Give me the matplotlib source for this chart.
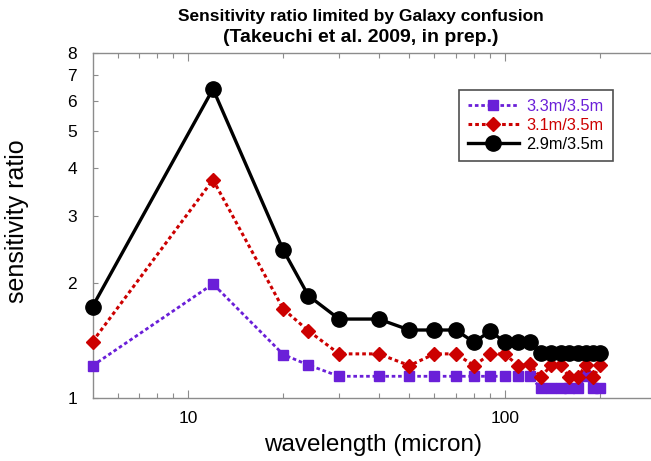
import matplotlib
matplotlib.use("Agg")
import matplotlib.pyplot as plt
from matplotlib.ticker import FixedLocator, NullFormatter, FixedFormatter

# Wavelengths (micron) and sensitivity ratios for three mirror sizes
wavelength = [5, 12, 20, 24, 30, 40, 50, 60, 70, 80, 90, 100, 110, 120,
              130, 140, 150, 160, 170, 180, 190, 200]

ratio_33 = [1.215, 1.99, 1.30, 1.22, 1.14, 1.14, 1.14, 1.14, 1.14, 1.14, 1.14,
            1.14, 1.14, 1.14, 1.06, 1.06, 1.06, 1.06, 1.06, 1.14, 1.06, 1.06]
ratio_31 = [1.405, 3.73, 1.71, 1.50, 1.305, 1.305, 1.216, 1.305, 1.305, 1.216,
            1.305, 1.305, 1.216, 1.225, 1.133, 1.22, 1.22, 1.133, 1.133, 1.22,
            1.133, 1.22]
ratio_29 = [1.735, 6.45, 2.44, 1.854, 1.61, 1.61, 1.507, 1.507, 1.507, 1.40,
            1.498, 1.40, 1.40, 1.40, 1.31, 1.31, 1.31, 1.31, 1.31, 1.31, 1.31,
            1.31]

labels = ["3.3m/3.5m", "3.1m/3.5m", "2.9m/3.5m"]
colors = ["#6a1fd8", "#cc0000", "#000000"]

x_major = [10, 100]
x_minor = [6, 7, 8, 9, 20, 30, 40, 50, 60, 70, 80, 90, 200, 300]
y_ticks = [1, 2, 3, 4, 5, 6, 7, 8]

plt.rcParams["font.family"] = ["Liberation Sans", "DejaVu Sans"]

fig = plt.figure(figsize=(6.51, 4.61), dpi=100)
ax = fig.add_axes([92.5 / 651, (461 - 398) / 461, (656 - 92.5) / 651, (398 - 53.3) / 461])

ax.set_xscale("log")
ax.set_yscale("log")
ax.set_xlim(5, 300)
ax.set_ylim(1, 8)

ax.plot(wavelength, ratio_33, color=colors[0], lw=2.0, dashes=(1.3, 1.0),
        marker="s", ms=7, mec=colors[0], label=labels[0], clip_on=False, zorder=3)
ax.plot(wavelength, ratio_31, color=colors[1], lw=2.2, dashes=(1.2, 1.0),
        marker="D", ms=7.5, mec=colors[1], label=labels[1], clip_on=False, zorder=4)
ax.plot(wavelength, ratio_29, color=colors[2], lw=2.4, ls="-",
        marker="o", ms=11, mec=colors[2], label=labels[2], clip_on=False, zorder=5)

ax.xaxis.set_major_locator(FixedLocator(x_major))
ax.xaxis.set_major_formatter(FixedFormatter([str(v) for v in x_major]))
ax.xaxis.set_minor_locator(FixedLocator(x_minor))
ax.xaxis.set_minor_formatter(NullFormatter())
ax.yaxis.set_major_locator(FixedLocator(y_ticks))
ax.yaxis.set_major_formatter(FixedFormatter([str(v) for v in y_ticks]))
ax.yaxis.set_minor_locator(FixedLocator([]))

ax.tick_params(axis="x", which="major", direction="in", length=6, width=0.8,
               color="#8c8c8c", top=True, labelsize=12.5, pad=9.5)
ax.tick_params(axis="x", which="minor", direction="in", length=3.5, width=0.8,
               color="#8c8c8c", top=True)
ax.tick_params(axis="y", which="major", direction="in", length=3.5, width=0.8,
               color="#8c8c8c", labelsize=12.5, pad=11)

for side in ["left", "bottom", "top", "right"]:
    ax.spines[side].set_color("#8c8c8c")
    ax.spines[side].set_linewidth(1.0)

ax.set_xlabel("wavelength (micron)", fontsize=17.5)
ax.set_ylabel("sensitivity ratio", fontsize=18)
ax.xaxis.set_label_coords(0.497, -0.103)
ax.yaxis.set_label_coords(-0.113, 0.512)

fig.text(361 / 651, 1 - 17 / 461, "Sensitivity ratio limited by Galaxy confusion",
         ha="center", va="center", fontsize=12.5, fontweight="bold")
fig.text(361 / 651, 1 - 38 / 461, "(Takeuchi et al. 2009, in prep.)",
         ha="center", va="center", fontsize=14, fontweight="bold")

leg = ax.legend(loc="upper left", bbox_to_anchor=(459 / 651, 1 - 90 / 461),
                bbox_transform=fig.transFigure, fontsize=11.8, frameon=True,
                fancybox=False, edgecolor="#222222", handlelength=3.1,
                handletextpad=0.45, labelspacing=0.25, borderpad=0.55,
                borderaxespad=0)
leg.get_frame().set_linewidth(1.2)
for txt, c in zip(leg.get_texts(), colors):
    txt.set_color(c)

fig.savefig("out.png", dpi=100)
